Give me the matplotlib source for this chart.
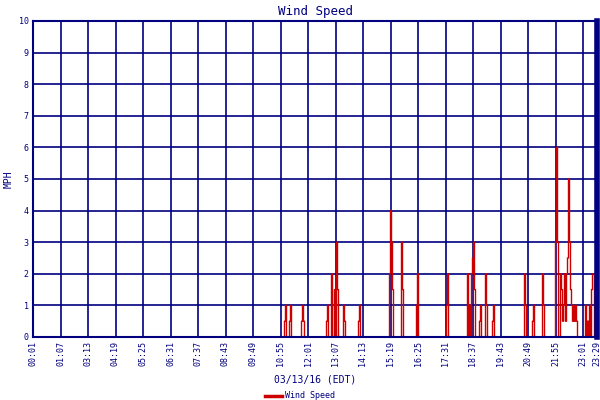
import numpy as np
import matplotlib.pyplot as plt
from matplotlib.lines import Line2D

# sample index (one reading per slot) of each non-zero reading, and its value (MPH)
spike_idx = [252, 253, 257, 258, 269, 270, 271, 294, 295, 299, 302, 304, 305, 311, 312,
             326, 327, 357, 358, 359, 360, 369, 370, 384, 385, 414, 415,
             435, 437, 439, 440, 441, 442, 447, 448, 453, 454, 460, 461,
             492, 493, 500, 501, 510, 511, 523, 524, 525,
             528, 529, 530, 531, 532, 533, 534, 535, 536, 537, 538, 539,
             540, 541, 542, 543, 544, 553, 555, 557, 559, 560, 561]
spike_val = [0.5, 1, 0.5, 1, 0.5, 1, 0.5, 0.5, 1, 2, 1.5, 3, 1.5, 1, 0.5,
             0.5, 1, 2, 4, 3, 1.5, 3, 1.5, 1, 2, 1, 2,
             2, 1, 2, 2.5, 3, 1.5, 0.5, 1, 2, 1, 0.5, 1,
             2, 1, 0.5, 1, 2, 1, 3, 6, 3,
             2, 1.5, 0.5, 1, 2, 0.5, 2, 2.5, 5, 3, 1.5, 1,
             0.5, 1, 0.5, 1, 0.5, 1, 0.5, 1, 1.5, 2, 2]

tick_labels = ["00:01", "01:07", "03:13", "04:19", "05:25", "06:31", "07:37", "08:43",
               "09:49", "10:55", "12:01", "13:07", "14:13", "15:19", "16:25", "17:31",
               "18:37", "19:43", "20:49", "21:55", "23:01", "23:29"]
tick_idx = [27.5 * i for i in range(21)] + [564]

navy = "#000080"
red = "#cc0000"
plt.rcParams['font.family'] = ['DejaVu Sans Mono']

t = np.arange(0, 565)
v = np.zeros(len(t))
for i, val in zip(spike_idx, spike_val):
    v[i] = val

fig = plt.figure(figsize=(6, 4), dpi=100)
ax = fig.add_axes([0.055, 0.1575, 0.94, 0.79])
ax.plot(t, v, color=red, lw=1.0, drawstyle="steps-mid")

ax.set_xlim(0, 564)
ax.set_ylim(0, 10)
ax.set_yticks(range(11))
ax.set_xticks(tick_idx)
ax.set_xticklabels(tick_labels, rotation=90)
ax.tick_params(colors=navy, labelsize=6, length=0, pad=3)
ax.grid(True, color=navy, lw=1.2)
ax.set_axisbelow(True)
for s in ax.spines.values():
    s.set_color(navy)
    s.set_linewidth(1.5)
ax.spines['right'].set_linewidth(4)

ax.set_title("Wind Speed", color=navy, fontsize=9, pad=4)
ax.set_ylabel("MPH", color=navy, fontsize=7)
ax.set_xlabel("03/13/16 (EDT)", color=navy, fontsize=7, labelpad=6)

fig.legend(handles=[Line2D([], [], color=red, lw=2.5)], labels=["Wind Speed"],
           loc="lower center", bbox_to_anchor=(0.5, -0.02), frameon=False,
           fontsize=6, labelcolor=navy, handlelength=2, handletextpad=0.3)

fig.savefig("out.png", dpi=100)
